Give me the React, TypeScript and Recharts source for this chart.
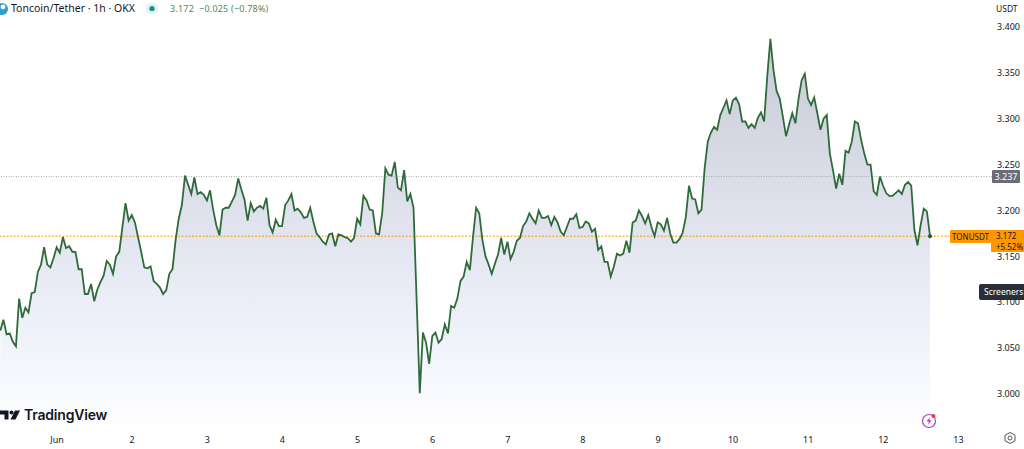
import React from "react";
import { ComposedChart, Area, Line, XAxis, YAxis, ReferenceLine, ReferenceDot } from "recharts";

const prices = [
  3.069,3.081,3.065,3.066,3.057,3.052,3.104,3.083,3.094,3.089,3.110,3.111,3.133,3.141,3.160,3.141,3.138,3.148,3.160,3.154,
  3.171,3.159,3.161,3.155,3.155,3.136,3.136,3.109,3.109,3.120,3.101,3.114,3.122,3.129,3.145,3.141,3.131,3.150,3.155,3.182,
  3.208,3.189,3.195,3.187,3.171,3.155,3.138,3.137,3.139,3.123,3.120,3.116,3.109,3.113,3.131,3.136,3.168,3.191,3.206,3.238,
  3.228,3.218,3.236,3.218,3.220,3.217,3.211,3.222,3.201,3.184,3.173,3.201,3.203,3.203,3.210,3.217,3.235,3.223,3.212,3.189,
  3.208,3.199,3.203,3.205,3.202,3.214,3.184,3.176,3.190,3.183,3.183,3.206,3.211,3.218,3.200,3.202,3.198,3.192,3.193,3.203,
  3.188,3.175,3.171,3.166,3.163,3.174,3.175,3.161,3.174,
  3.173,3.171,3.170,3.166,3.170,3.191,3.185,3.216,3.211,3.201,3.200,3.175,3.174,3.197,3.246,3.239,3.238,3.253,3.225,3.222,
  3.244,3.210,3.218,3.203,3.102,3.001,3.067,3.056,3.033,3.063,3.067,3.056,3.060,3.076,3.066,3.096,3.094,3.104,3.123,3.128,
  3.144,3.135,3.171,3.203,3.197,3.168,3.150,3.141,3.131,3.142,3.152,3.170,3.152,3.166,3.147,3.155,3.167,3.170,3.183,3.188,
  3.197,3.191,3.186,3.200,3.192,3.192,3.194,3.184,3.193,3.187,3.177,3.173,3.182,3.191,3.191,3.196,3.181,3.182,3.188,3.186,
  3.177,3.180,3.157,3.161,3.144,3.144,3.128,3.139,3.153,3.151,3.153,3.167,3.154,3.187,3.189,3.200,3.194,3.186,3.195,3.182,
  3.172,3.187,3.185,3.178,3.192,3.175,3.165,3.165,3.169,
  3.176,3.193,3.227,3.213,3.212,3.197,3.201,3.246,3.275,3.285,3.291,3.288,3.304,3.312,3.320,3.305,3.320,3.323,3.316,3.297,
  3.297,3.290,3.294,3.290,3.301,3.307,3.297,3.346,3.387,3.353,3.330,3.322,3.302,3.281,3.294,3.306,3.295,3.322,3.342,3.349,
  3.322,3.315,3.323,3.306,3.288,3.300,3.304,3.262,3.244,3.224,3.240,3.228,3.265,3.263,3.275,3.297,3.295,3.277,3.262,3.250,
  3.250,3.221,3.217,3.237,3.227,3.219,3.216,3.216,3.219,3.222,3.218,3.228,3.231,3.227,3.179,3.162,3.184,3.202,3.199,3.172,
];
const lastHour = 278.9;
const prevClose = 3.237;
const lastPrice = 3.172;
const priceTicks = [3.0, 3.05, 3.1, 3.15, 3.2, 3.25, 3.3, 3.35, 3.4];
const hourTicks = [0, 24, 48, 72, 96, 120, 144, 168, 192, 216, 240, 264, 288];
const dayLabels = ["Jun", "2", "3", "4", "5", "6", "7", "8", "9", "10", "11", "12", "13"];

const rows = prices.map((price, i) => ({ hour: lastHour - (prices.length - 1 - i), price }));
const font = "'Noto Sans', 'Open Sans', sans-serif";

const abs = (left: number, top: number, extra: React.CSSProperties = {}): React.CSSProperties => ({
  position: "absolute", left, top, fontFamily: font, whiteSpace: "nowrap", ...extra,
});

export default function App() {
  return (
    <div style={{ position: "absolute", left: 0, top: 0, width: 1024, height: 449, background: "#fff", overflow: "hidden" }}>
      <ComposedChart width={1024} height={449} data={rows} margin={{ top: 0, right: 0, bottom: 0, left: 0 }}>
        <defs>
          <linearGradient id="toncoinFill" x1="0" y1="0" x2="0" y2="1">
            <stop offset="0%" stopColor="#c8cbd6" />
            <stop offset="50%" stopColor="#e2e5f0" />
            <stop offset="85%" stopColor="#f5f7fe" />
            <stop offset="100%" stopColor="#ffffff" />
          </linearGradient>
        </defs>
        <XAxis
          dataKey="hour" type="number" domain={[-18.2, 298.7]} allowDataOverflow
          ticks={hourTicks} interval={0} height={19} axisLine={false} tickLine={false} tickSize={0} tickMargin={7}
          tick={{ fontSize: 9, fill: "#131722", fontFamily: font }}
          tickFormatter={(h: number) => dayLabels[hourTicks.indexOf(h)]}
        />
        <YAxis
          orientation="right" type="number" domain={[2.9608, 3.4294]} allowDataOverflow
          ticks={priceTicks} interval={0} width={32} axisLine={false} tickLine={false} tickSize={0} tickMargin={5}
          tick={{ fontSize: 9, fill: "#131722", fontFamily: font }}
          tickFormatter={(v: number) => v.toFixed(3)}
        />
        <Area dataKey="price" type="linear" stroke="none" fill="url(#toncoinFill)" fillOpacity={1} isAnimationActive={false} dot={false} activeDot={false} />
        <ReferenceLine y={prevClose} stroke="#a8aab0" strokeDasharray="1 1.5" strokeWidth={1} />
        <ReferenceLine y={lastPrice} stroke="#ff9800" strokeDasharray="2 1.5" strokeWidth={1} />
        <Line dataKey="price" type="linear" stroke="#2f6b3a" strokeWidth={1.8} isAnimationActive={false} dot={false} activeDot={false} />
        <ReferenceDot x={lastHour} y={lastPrice} r={2} fill="#1f5c2e" stroke="none" />
      </ComposedChart>

      {/* Header */}
      <svg style={{ position: "absolute", left: 0, top: 1 }} width={10} height={15}>
        <circle cx={2} cy={8} r={6} fill="#2a9fd0" />
        <circle cx={3} cy={6} r={2.4} fill="#fff" />
      </svg>
      <div style={abs(11, 1, { fontSize: 10.5, color: "#131722", lineHeight: "15px" })}>Toncoin/Tether · 1h · OKX</div>
      <svg style={{ position: "absolute", left: 145, top: 2 }} width={14} height={14}>
        <circle cx={7} cy={6.5} r={6} fill="#e2f3f0" />
        <circle cx={7} cy={6.5} r={2.6} fill="#089981" />
      </svg>
      <div style={abs(170, 2, { fontSize: 9, color: "#4e8a5c", lineHeight: "14px", letterSpacing: 0.2 })}>3.172&nbsp;&nbsp;−0.025 (−0.78%)</div>
      <div style={abs(996, 3, { fontSize: 8.5, color: "#131722", lineHeight: "12px" })}>USDT</div>

      {/* Price tags */}
      <div style={abs(992, 170, { width: 28, height: 13, background: "#6a6d78", color: "#fff", fontSize: 9, lineHeight: "13px", textAlign: "center", borderRadius: 1 })}>3.237</div>
      <div style={abs(950, 230, { width: 41, height: 13, background: "#ff9800", color: "#131722", fontSize: 8, lineHeight: "13px", textAlign: "center", borderRadius: 1 })}>TONUSDT</div>
      <div style={abs(991, 230, { width: 33, height: 22, background: "#ff9800", color: "#131722", fontSize: 8, lineHeight: "10.5px", paddingLeft: 5, paddingTop: 1, boxSizing: "border-box" })}>3.172<br />+5.52%</div>
      <div style={abs(979, 284, { width: 48, height: 16, background: "#2a2e39", color: "#fff", fontSize: 8.5, lineHeight: "16px", paddingLeft: 5, boxSizing: "border-box", borderRadius: 2 })}>Screeners</div>

      {/* Watermark */}
      <svg style={{ position: "absolute", left: 0, top: 408 }} width={22} height={14}>
        <path d="M0 2.5H8.5V11.5H4.5V6.5H0Z" fill="#131722" />
        <circle cx={11.5} cy={4.6} r={2} fill="#131722" />
        <path d="M15 2.5H20L15.5 11.5H10.5Z" fill="#131722" />
      </svg>
      <div style={abs(24, 405, { fontSize: 14, fontWeight: 600, color: "#131722", lineHeight: "20px", fontFamily: "Inter, 'Noto Sans', sans-serif", letterSpacing: -0.2 })}>TradingView</div>

      {/* Bottom icons */}
      <svg style={{ position: "absolute", left: 920, top: 412 }} width={18} height={18}>
        <circle cx={9} cy={9} r={6.5} fill="#fff" stroke="#a93fc4" strokeWidth={1.2} />
        <path d="M10 5L6.5 9.6H9L8 13L11.6 8.2H9.2Z" fill="#a93fc4" />
        <circle cx={13.5} cy={4} r={2} fill="#f23645" />
      </svg>
      <svg style={{ position: "absolute", left: 1003, top: 431 }} width={14} height={14}>
        <path d="M7 1.5L12 4.2V9.8L7 12.5L2 9.8V4.2Z" fill="none" stroke="#50535e" strokeWidth={1} />
        <circle cx={7} cy={7} r={2} fill="none" stroke="#50535e" strokeWidth={1} />
      </svg>
    </div>
  );
}
